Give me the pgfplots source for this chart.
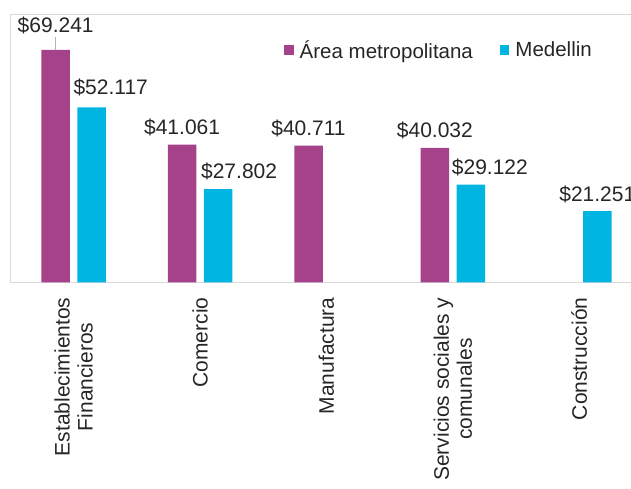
\documentclass[border=0pt]{standalone}
\usepackage{fontspec}
\setmainfont{Liberation Sans}
\usepackage{pgfplots}
\usepackage{pgfplotstable}
\pgfplotsset{compat=1.18}

\definecolor{area}{HTML}{A5428A}
\definecolor{med}{HTML}{00B5E2}
\definecolor{txt}{HTML}{262626}

% x = category index, y = value, dx/dy = label offsets (pt)
\pgfplotstableread{
x y dx dy
0 69241 0 17.2
1 41061 0 10.5
2 40711 0 10.5
3 40032 0 10.5
}\areadata
\pgfplotstableread{
x y dx dy
0 52117 19 12.5
1 27802 21 10.5
3 29122 19 10.5
4 21251 0 9.5
}\meddata

\begin{document}
\begin{tikzpicture}
\useasboundingbox (0,0) rectangle (631pt,488pt);
\clip (0,0) rectangle (631pt,488pt);
\begin{axis}[
  at={(10.5pt,205.7pt)}, anchor=south west,
  scale only axis, width=632pt, height=268.4pt,
  xmin=-0.5, xmax=4.5, ymin=0, ymax=80000,
  ybar, bar width=28.5pt,
  axis line style={draw=gray!30, line width=0.8pt},
  xtick={0,...,4}, ytick=\empty,
  major tick length=0pt,
  xticklabels={{Establecimientos\\Financieros},Comercio,Manufactura,{Servicios sociales y\\comunales},Construcción},
  xticklabel style={rotate=90, anchor=east, align=center, inner sep=0pt,
    font=\fontsize{21}{23}\selectfont, text=txt},
  xticklabel shift=15pt,
  /pgf/number format/assume math mode=true,
  nodes near coords={\$\pgfmathprintnumber[fixed,precision=0,1000 sep={.}]{\pgfplotspointmeta}},
  visualization depends on={\thisrow{dx}\as\dx},
  visualization depends on={\thisrow{dy}\as\dy},
  nodes near coords style={anchor=base, xshift=\dx pt, yshift=\dy pt, inner sep=0pt,
    font=\fontsize{21}{23}\selectfont, text=txt},
  legend columns=2,
  legend style={at={(0.4328,0.8655)}, anchor=west, draw=none, fill=none, inner sep=0pt,
    font=\fontsize{20.5}{22}\selectfont, text=txt, nodes={inner sep=0pt},
    /tikz/every odd column/.append style={column sep=6pt},
    /tikz/every even column/.append style={column sep=27pt}},
  legend image code/.code={\fill[#1] (0pt,-4.75pt) rectangle (9.5pt,4.75pt);},
]
\addplot[fill=area, draw=none, bar shift=-18pt] table[x=x,y=y]{\areadata};
\addlegendentry{Área metropolitana}
\addplot[fill=med, draw=none, bar shift=18pt] table[x=x,y=y]{\meddata};
\addlegendentry{Medellin}
\draw[gray!60, line width=0.6pt] ([xshift=-18pt]axis cs:0,69241) -- ++(0pt,13.3pt);
\end{axis}
\end{tikzpicture}
\end{document}
